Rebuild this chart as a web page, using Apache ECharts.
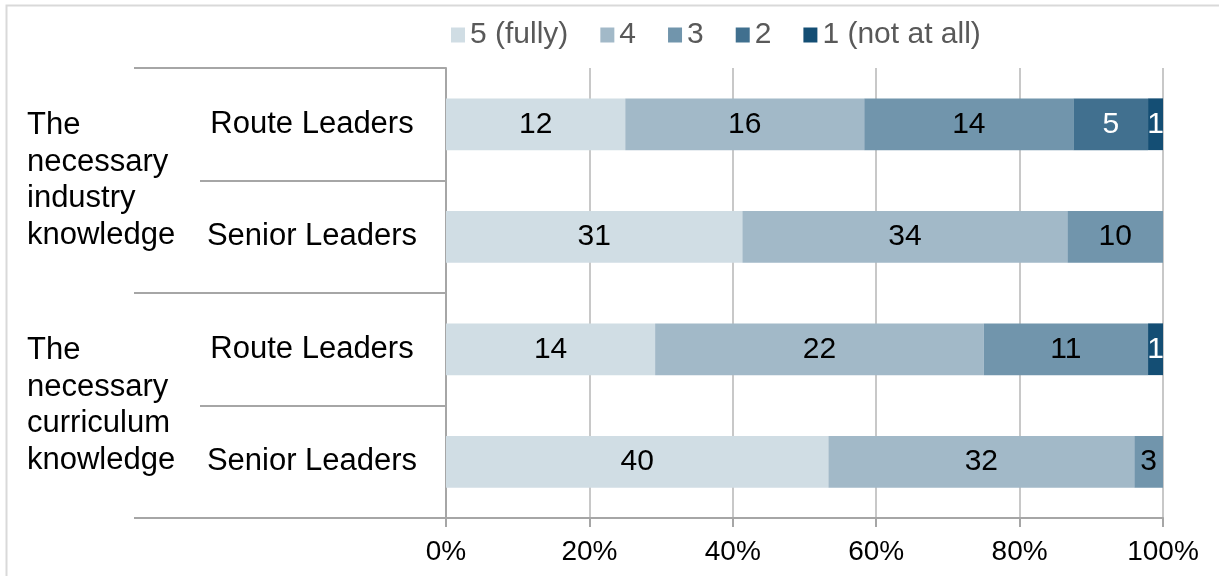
<!DOCTYPE html>
<html>
<head>
<meta charset="utf-8">
<script src="https://cdn.jsdelivr.net/npm/echarts@6/dist/echarts.min.js"></script>
<style>
  html, body { margin: 0; padding: 0; background: #fff; }
  #chart { width: 1219px; height: 576px; }
</style>
</head>
<body>
<div id="chart"></div>
<script>
// rows, top to bottom
var rows = ['Route Leaders', 'Senior Leaders', 'Route Leaders', 'Senior Leaders'];
var groups = ['The\nnecessary\nindustry\nknowledge', 'The\nnecessary\ncurriculum\nknowledge'];
var levels = ['5 (fully)', '4', '3', '2', '1 (not at all)'];
var colors = ['#d0dde4', '#a2b9c8', '#7195ac', '#41708f', '#144e74'];

// counts per level, one value per row
var fully = [12, 31, 14, 40];
var four  = [16, 34, 22, 32];
var three = [14, 10, 11, 3];
var two   = [5, 0, 0, 0];
var notAtAll = [1, 0, 1, 0];

var counts = [fully, four, three, two, notAtAll];
var totals = rows.map(function (r, i) {
  return counts.reduce(function (s, c) { return s + c[i]; }, 0);
});

var font = '"Liberation Sans", Arial, sans-serif';

var series = counts.map(function (vals, k) {
  return {
    name: levels[k],
    type: 'bar',
    stack: 'all',
    barWidth: '46%',
    itemStyle: { color: colors[k] },
    label: {
      show: true,
      position: 'inside',
      fontFamily: font,
      fontSize: 30,
      color: k >= 3 ? '#ffffff' : '#000000',
      formatter: function (p) { return vals[p.dataIndex] ? vals[p.dataIndex] : ''; }
    },
    data: vals.map(function (v, i) { return v / totals[i] * 100; })
  };
});

var chart = echarts.init(document.getElementById('chart'));
var option = {
  animation: false,
  textStyle: { fontFamily: font },
  legend: {
    data: levels,
    left: 446,
    top: 15,
    itemWidth: 14,
    itemHeight: 15,
    itemGap: 32,
    icon: 'rect',
    textStyle: { fontFamily: font, fontSize: 30, color: '#595959' }
  },
  grid: { left: 446, right: 56, top: 68, bottom: 58, containLabel: false },
  xAxis: {
    type: 'value',
    min: 0,
    max: 100,
    interval: 20,
    axisLine: { show: true, lineStyle: { color: '#a6a6a6', width: 2 } },
    axisTick: { show: true, length: 9, lineStyle: { color: '#a6a6a6', width: 2 } },
    splitLine: { show: true, lineStyle: { color: '#c8c8c8', width: 2 } },
    axisLabel: { fontFamily: font, fontSize: 28, color: '#000', margin: 20, formatter: '{value}%' }
  },
  yAxis: [
    {
      type: 'category',
      data: rows,
      inverse: true,
      axisLine: { show: true, lineStyle: { color: '#a6a6a6', width: 2 } },
      axisTick: { show: true, length: 246, interval: 0, lineStyle: { color: '#a6a6a6', width: 2 } },
      axisLabel: { fontFamily: font, fontSize: 31, color: '#000', align: 'center', margin: 134, interval: 0, padding: [8, 0, 0, 0] }
    },
    {
      type: 'category',
      data: groups,
      inverse: true,
      position: 'left',
      axisLine: { show: false },
      axisTick: { show: true, length: 312, interval: 0, lineStyle: { color: '#a6a6a6', width: 2 } },
      axisLabel: { fontFamily: font, fontSize: 31, color: '#000', align: 'left', margin: 419, lineHeight: 36.5, interval: 0, padding: [0, 0, 20, 0] }
    }
  ],
  graphic: [{
    type: 'rect',
    left: 4,
    top: 3,
    shape: { width: 1240, height: 600 },
    style: { fill: 'none', stroke: '#d9d9d9', lineWidth: 2 },
    silent: true
  }],
  series: series
};
chart.setOption(option);
</script>
</body>
</html>
